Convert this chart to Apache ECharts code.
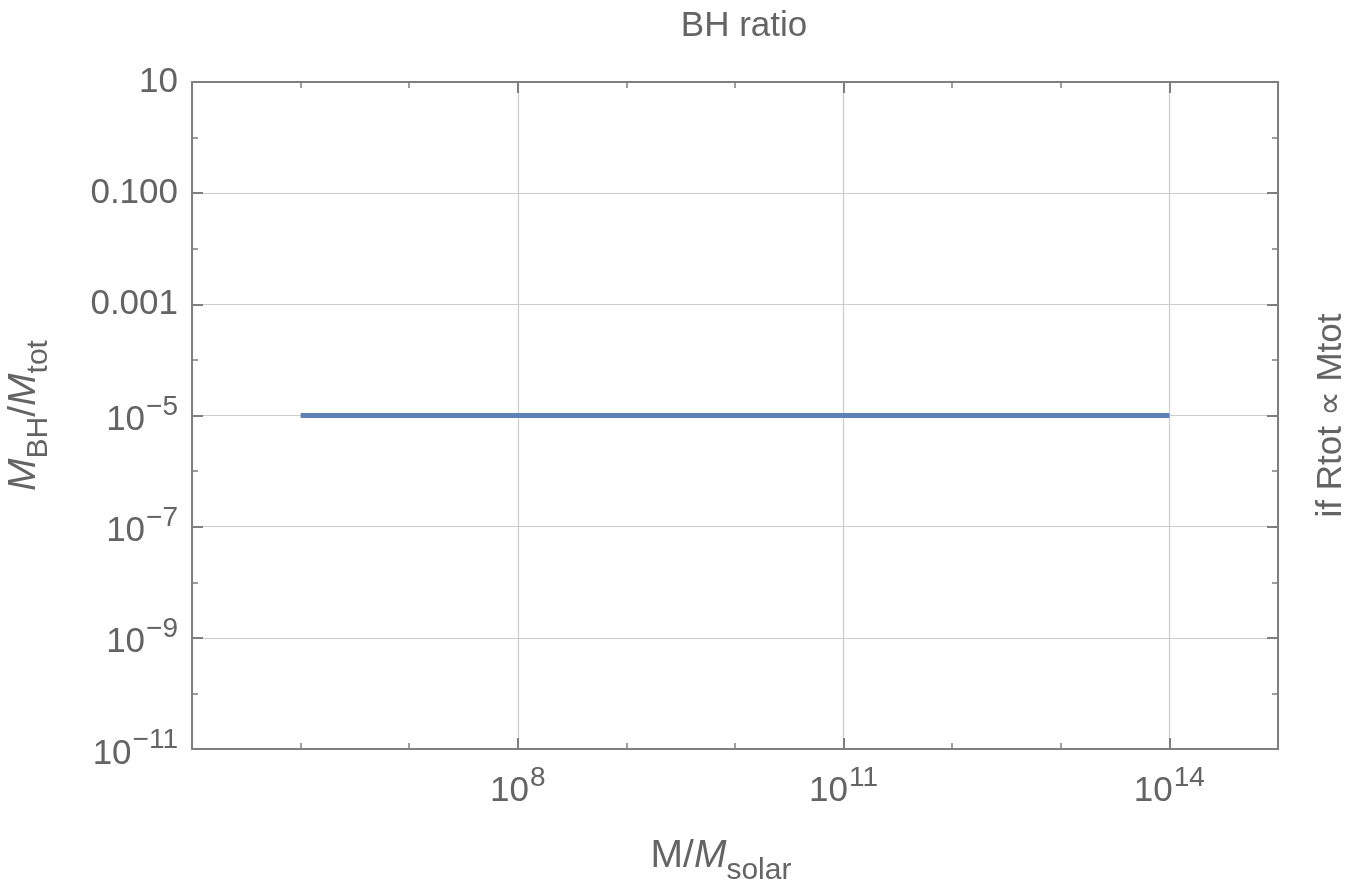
<!DOCTYPE html>
<html>
<head>
<meta charset="utf-8">
<title>BH ratio</title>
<script src="https://cdn.jsdelivr.net/npm/echarts@6/dist/echarts.min.js"></script>
<style>
  html, body { margin: 0; padding: 0; background: #ffffff; }
  #chart { width: 1346px; height: 884px; }
</style>
</head>
<body>
<div id="chart"></div>
<script>
// Black-hole mass fraction versus total mass (log–log)
const massValues = [1e6, 1e14];          // M / M_solar
const ratioValues = [1e-5, 1e-5];        // M_BH / M_tot

// Axis ranges (decades)
const xRange = [1e5, 1e15];
const yRange = [1e-11, 10];

// Labelled ticks: exponent -> label text
const xTickExponents = [8, 11, 14];
const xTickLabels = ['10^8', '10^11', '10^14'];
const yTickExponents = [1, -1, -3, -5, -7, -9, -11];
const yTickLabels = ['10', '0.100', '0.001', '10^−5', '10^−7', '10^−9', '10^−11'];

const FONT = '"Liberation Sans", Arial, sans-serif';
const TEXT = '#646464';
const FRAME = '#7f7f7f';
const GRID = '#cccccc';

function richLabel(text) {
  const k = text.indexOf('^');
  if (k < 0) return '{b|' + text + '}';
  return '{b|' + text.slice(0, k) + '}{sup|' + text.slice(k + 1) + '}';
}
function makeFormatter(exps, labels) {
  return function (value) {
    const e = Math.round(Math.log10(value));
    const i = exps.indexOf(e);
    return i < 0 ? '' : richLabel(labels[i]);
  };
}
const tickRich = {
  b: { fontSize: 35, fontFamily: FONT, color: TEXT, verticalAlign: 'bottom' },
  sup: { fontSize: 28, fontFamily: FONT, color: TEXT, verticalAlign: 'bottom', padding: [0, 0, 17, 1] }
};
const nameRich = {
  i: { fontSize: 39, fontFamily: FONT, fontStyle: 'italic', color: TEXT, verticalAlign: 'bottom' },
  n: { fontSize: 39, fontFamily: FONT, color: TEXT, verticalAlign: 'bottom' },
  sub: { fontSize: 30, fontFamily: FONT, color: TEXT, verticalAlign: 'bottom', padding: [0, 0, -10, 0] }
};

function logAxis(range, opts) {
  return Object.assign({
    type: 'log',
    logBase: 10,
    min: range[0],
    max: range[1],
    axisLine: { show: false, onZero: false },
    axisTick: { show: false },
    axisLabel: { show: false },
    splitLine: { show: false },
    minorTick: { show: false },
    minorSplitLine: { show: false }
  }, opts);
}
const frameLine = { show: true, onZero: false, lineStyle: { color: FRAME, width: 2 } };
const majorTick = { show: true, inside: true, length: 11, lineStyle: { color: FRAME, width: 2 } };
const minorTickStyle = { show: true, inside: true, length: 6, lineStyle: { color: FRAME, width: 1.5 } };

const chart = echarts.init(document.getElementById('chart'), null, { renderer: 'canvas' });

chart.setOption({
  animation: false,
  backgroundColor: '#ffffff',
  title: {
    text: 'BH ratio',
    left: 739,
    textAlign: 'center',
    top: 4,
    textStyle: { fontFamily: FONT, fontSize: 35, fontWeight: 'normal', color: TEXT }
  },
  grid: { left: 192, right: 68, top: 82, bottom: 135, containLabel: false, outerBoundsMode: 'none' },
  xAxis: [
    logAxis(xRange, {
      position: 'bottom',
      interval: 3,
      axisLine: frameLine,
      axisTick: majorTick,
      axisLabel: {
        show: true, margin: 15,
        formatter: makeFormatter(xTickExponents, xTickLabels),
        rich: tickRich
      },
      splitLine: { show: true, lineStyle: { color: GRID, width: 1.2 } },
      name: '{n|M/}{i|M}{sub|solar}',
      nameLocation: 'middle',
      nameGap: 88,
      nameTextStyle: { rich: nameRich, padding: [0, 28, 0, 0] }
    }),
    logAxis(xRange, { position: 'bottom', interval: 1, axisTick: minorTickStyle }),
    logAxis(xRange, { position: 'top', interval: 3, axisLine: frameLine, axisTick: majorTick }),
    logAxis(xRange, { position: 'top', interval: 1, axisTick: minorTickStyle })
  ],
  yAxis: [
    logAxis(yRange, {
      position: 'left',
      interval: 2,
      axisLine: frameLine,
      axisTick: majorTick,
      axisLabel: {
        show: true, margin: 14,
        formatter: makeFormatter(yTickExponents, yTickLabels),
        rich: tickRich
      },
      splitLine: { show: true, lineStyle: { color: GRID, width: 1.2 } },
      name: '{i|M}{sub|BH}{n|/}{i|M}{sub|tot}',
      nameLocation: 'middle',
      nameRotate: 90,
      nameGap: 148,
      nameTextStyle: { rich: nameRich }
    }),
    logAxis(yRange, { position: 'left', interval: 1, axisTick: minorTickStyle }),
    logAxis(yRange, {
      position: 'right',
      interval: 2,
      axisLine: frameLine,
      axisTick: majorTick,
      name: 'if Rtot ∝ Mtot',
      nameLocation: 'middle',
      nameRotate: 90,
      nameGap: 36,
      nameTextStyle: { fontFamily: FONT, fontSize: 35, color: TEXT }
    }),
    logAxis(yRange, { position: 'right', interval: 1, axisTick: minorTickStyle })
  ],
  series: [{
    type: 'line',
    xAxisIndex: 0,
    yAxisIndex: 0,
    showSymbol: false,
    symbol: 'none',
    lineStyle: { color: '#5E81B5', width: 5 },
    data: massValues.map((m, i) => [m, ratioValues[i]])
  }]
});
</script>
</body>
</html>
